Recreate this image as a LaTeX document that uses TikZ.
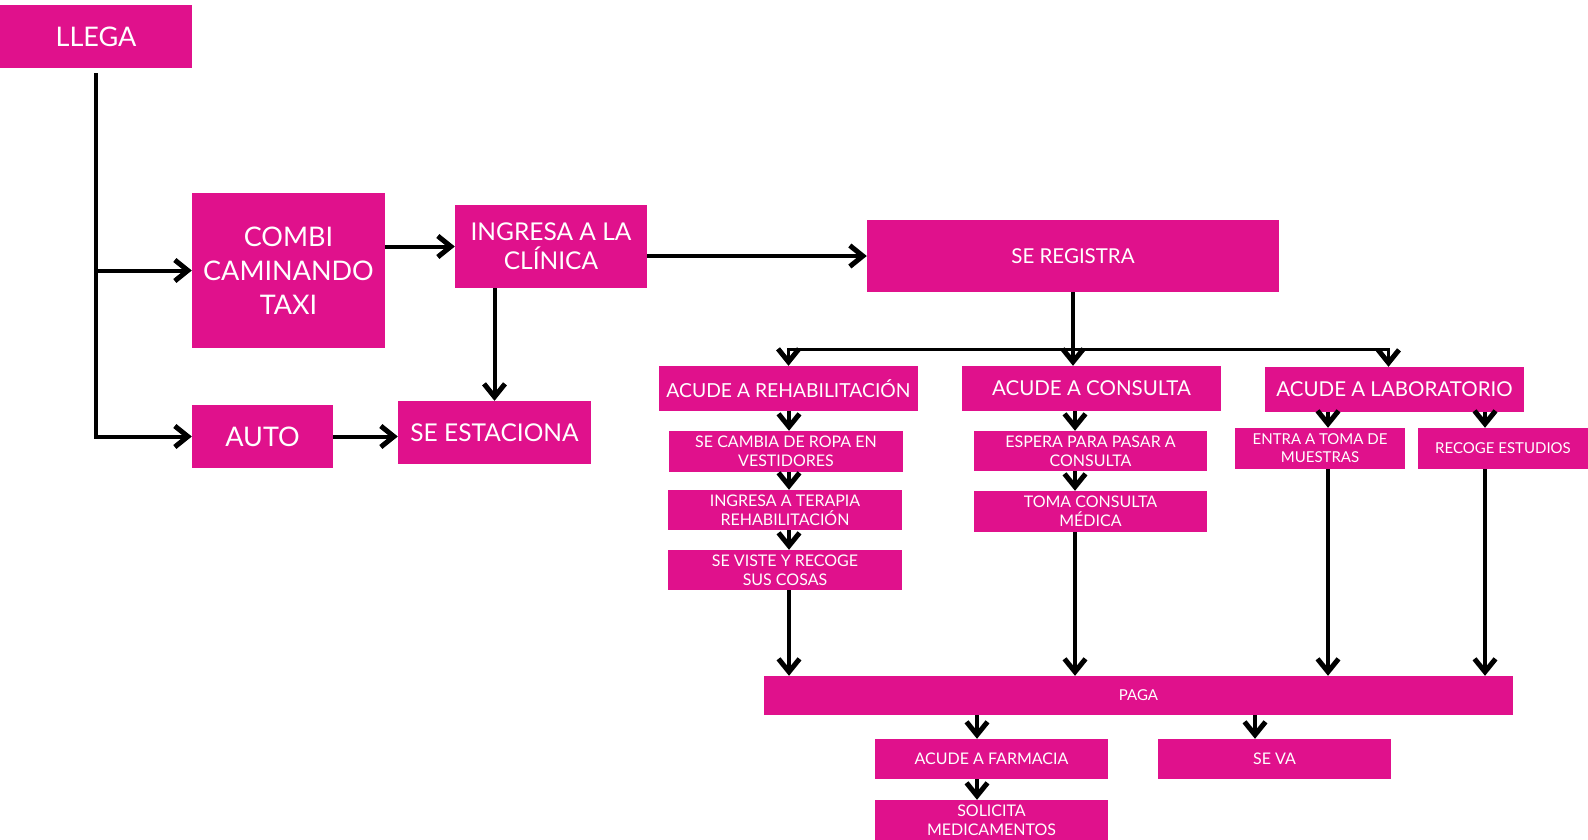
\documentclass[tikz,border=0pt]{standalone}
\usepackage{fontspec}
\setmainfont{Lato}
\usepackage{xcolor}
\usetikzlibrary{positioning, arrows.meta, calc}

\definecolor{boxpink}{RGB}{224,17,140}

\begin{document}
\begin{tikzpicture}[ x = 1pt, y = -1pt
                   , >={Straight Barb[length=13pt, width=21pt, line width=5pt]}
                   , box/.style = { rectangle
                                  , fill = boxpink
                                  , text = white
                                  , inner sep = 0pt
                                  , align = center }
                   , big/.style = { box, font = \fontsize{27}{34}\selectfont }
                   , large/.style = { box, font = \fontsize{24.5}{29}\selectfont }
                   , mid/.style = { box, font = \fontsize{20.5}{24}\selectfont }
                   , small/.style = { box, font = \fontsize{16}{19}\selectfont }
                   , tiny/.style = { box, font = \fontsize{15}{18}\selectfont }
                   , link/.style = { ->, line width = 4pt }
                   ]

  \useasboundingbox (0,0) rectangle (1588,840);

  % left part
  \node (llega) [big, minimum width = 192pt, minimum height = 63pt] at (96,36.5) {LLEGA};
  \node (combi) [big, minimum width = 193pt, minimum height = 155pt] at (288.5,270.5) {COMBI\\CAMINANDO\\TAXI};
  \node (auto) [big, minimum width = 141pt, minimum height = 63pt] at (262.5,436.5) {AUTO};
  \node (ingresa) [large, minimum width = 192pt, minimum height = 83pt] at (551,246.5) {INGRESA A LA\\CLÍNICA};
  \node (estaciona) [large, minimum width = 193pt, minimum height = 63pt] at (494.5,432.5) {SE ESTACIONA};

  % registro y areas
  \node (registra) [mid, minimum width = 412pt, minimum height = 72pt] at (1073,256) {SE REGISTRA};
  \node (rehab) [mid, font = \fontsize{19.3}{24}\selectfont, minimum width = 259pt, minimum height = 45pt] at (788.5,388.5) {ACUDE A REHABILITACIÓN};
  \node (consulta) [mid, minimum width = 259pt, minimum height = 45pt] at (1091.5,388.5) {ACUDE A CONSULTA};
  \node (lab) [mid, minimum width = 259pt, minimum height = 45pt] at (1394.5,389.5) {ACUDE A LABORATORIO};

  \node (cambia) [small, minimum width = 234pt, minimum height = 41pt] at (786,451.5) {SE CAMBIA DE ROPA EN\\VESTIDORES};
  \node (terapia) [small, minimum width = 234pt, minimum height = 40pt] at (785,510) {INGRESA A TERAPIA\\REHABILITACIÓN};
  \node (viste) [small, minimum width = 234pt, minimum height = 40pt] at (785,570) {SE VISTE Y RECOGE\\SUS COSAS};
  \node (espera) [small, minimum width = 233pt, minimum height = 40pt] at (1090.5,451) {ESPERA PARA PASAR A\\CONSULTA};
  \node (toma) [small, minimum width = 233pt, minimum height = 41pt] at (1090.5,511.5) {TOMA CONSULTA\\MÉDICA};
  \node (muestras) [tiny, minimum width = 170pt, minimum height = 41pt] at (1320,448.5) {ENTRA A TOMA DE\\MUESTRAS};
  \node (estudios) [tiny, minimum width = 170pt, minimum height = 41pt] at (1503,448.5) {RECOGE ESTUDIOS};

  % salida
  \node (paga) [tiny, minimum width = 749pt, minimum height = 39pt] at (1138.5,695.5) {PAGA};
  \node (farmacia) [small, minimum width = 233pt, minimum height = 40pt] at (991.5,759) {ACUDE A FARMACIA};
  \node (seva) [small, minimum width = 233pt, minimum height = 40pt] at (1274.5,759) {SE VA};
  \node (solicita) [small, minimum width = 233pt, minimum height = 40pt] at (991.5,820) {SOLICITA\\MEDICAMENTOS};

  \coordinate (fork) at (1073,349);
  \coordinate (rcol) at (789,0);
  \coordinate (ccol) at (1075,0);
  \coordinate (mcol) at (1328,0);
  \coordinate (ecol) at (1485,0);
  \coordinate (fcol) at (977,0);
  \coordinate (vcol) at (1255,0);

  \draw[link] ([yshift=-5pt]llega.south) |- (combi.west);
  \draw[link] ([yshift=-5pt]llega.south) |- (auto.west);
  \draw[link] (combi.east |- ingresa.west) -- (ingresa.west);
  \draw[link] (ingresa.south -| estaciona.north) -- (estaciona.north);
  \draw[link] (auto.east) -- (auto.east -| estaciona.west);
  \draw[link] (ingresa.east |- registra.west) -- (registra.west);

  \draw[link] (registra.south) -- (registra.south |- consulta.north);
  \draw[link, line width = 3pt] (fork) -| (rehab.north);
  \draw[link, line width = 3pt] (fork) -| ([xshift=-6pt]lab.north);

  \draw[link] (rehab.south -| rcol) -- (cambia.north -| rcol);
  \draw[link] (cambia.south -| rcol) -- (terapia.north -| rcol);
  \draw[link] (terapia.south -| rcol) -- (viste.north -| rcol);
  \draw[link] (viste.south -| rcol) -- (paga.north -| rcol);

  \draw[link] (consulta.south -| ccol) -- (espera.north -| ccol);
  \draw[link] (espera.south -| ccol) -- (toma.north -| ccol);
  \draw[link] (toma.south -| ccol) -- (paga.north -| ccol);

  \draw[link] (lab.south -| mcol) -- (muestras.north -| mcol);
  \draw[link] (lab.south -| ecol) -- (estudios.north -| ecol);
  \draw[link] (muestras.south -| mcol) -- (paga.north -| mcol);
  \draw[link] (estudios.south -| ecol) -- (paga.north -| ecol);

  \draw[link] (paga.south -| fcol) -- (farmacia.north -| fcol);
  \draw[link] (paga.south -| vcol) -- (seva.north -| vcol);
  \draw[link] (farmacia.south -| fcol) -- (solicita.north -| fcol);

\end{tikzpicture}
\end{document}
